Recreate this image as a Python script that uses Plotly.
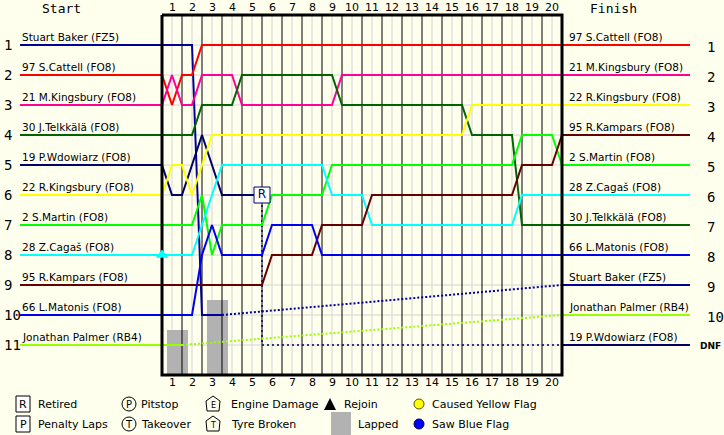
import plotly.graph_objects as go

# ---------------- data ----------------
drivers = ["Stuart Baker (FZ5)", "97 S.Cattell (FO8)", "21 M.Kingsbury (FO8)",
           "30 J.Telkkälä (FO8)", "19 P.Wdowiarz (FO8)", "22 R.Kingsbury (FO8)",
           "2 S.Martin (FO8)", "28 Z.Cagaš (FO8)", "95 R.Kampars (FO8)",
           "66 L.Matonis (FO8)", "Jonathan Palmer (RB4)"]
start_pos = [1, 2, 3, 4, 5, 6, 7, 8, 9, 10, 11]
finish_pos = [9, 1, 2, 7, 11, 3, 5, 6, 4, 8, 10]
finish_text = ["9", "1", "2", "7", "DNF", "3", "5", "6", "4", "8", "10"]
colors = ["#000099", "#FF0000", "#FF0099", "#006400", "#000066", "#FFFF00",
          "#00FF00", "#00FFFF", "#660000", "#0000F0", "#99FF00"]

# positions every half lap (0, 0.5, 1.0, ...)
pos_baker = [1, 1, 1, 1, 10, 10, 10]
pos_cattell = [2, 3, 2, 2, 1, 1, 1, 1, 1, 1,
               1, 1, 1, 1, 1, 1, 1, 1, 1, 1,
               1, 1, 1, 1, 1, 1, 1, 1, 1, 1,
               1, 1, 1, 1, 1, 1, 1, 1, 1, 1, 1]
pos_mkingsbury = [3, 2, 3, 3, 2, 2, 2, 2, 3, 3,
                  3, 3, 3, 3, 3, 3, 3, 3, 2, 2,
                  2, 2, 2, 2, 2, 2, 2, 2, 2, 2,
                  2, 2, 2, 2, 2, 2, 2, 2, 2, 2, 2]
pos_telkkala = [4, 4, 4, 4, 3, 3, 3, 3, 2, 2,
                2, 2, 2, 2, 2, 2, 2, 2, 3, 3,
                3, 3, 3, 3, 3, 3, 3, 3, 3, 3,
                3, 4, 4, 4, 4, 4, 7, 7, 7, 7, 7]
pos_wdowiarz = [5, 6, 6, 5, 4, 5, 6, 6, 6, 6, 6]
pos_rkingsbury = [6, 5, 5, 6, 5, 4, 4, 4, 4, 4,
                  4, 4, 4, 4, 4, 4, 4, 4, 4, 4,
                  4, 4, 4, 4, 4, 4, 4, 4, 4, 4,
                  4, 3, 3, 3, 3, 3, 3, 3, 3, 3, 3]
pos_martin = [7, 7, 7, 7, 6, 8, 7, 7, 7, 7,
              7, 6, 6, 6, 6, 6, 6, 5, 5, 5,
              5, 5, 5, 5, 5, 5, 5, 5, 5, 5,
              5, 5, 5, 5, 5, 5, 4, 4, 4, 4, 5]
pos_cagas = [8, 8, 8, 8, 7, 6, 5, 5, 5, 5,
             5, 5, 5, 5, 5, 5, 5, 6, 6, 6,
             6, 7, 7, 7, 7, 7, 7, 7, 7, 7,
             7, 7, 7, 7, 7, 7, 6, 6, 6, 6, 6]
pos_kampars = [9, 9, 9, 9, 9, 9, 9, 9, 9, 9,
               9, 8, 8, 8, 8, 8, 7, 7, 7, 7,
               7, 6, 6, 6, 6, 6, 6, 6, 6, 6,
               6, 6, 6, 6, 6, 6, 5, 5, 5, 5, 4]
pos_matonis = [10, 10, 10, 10, 8, 7, 8, 8, 8, 8,
               8, 7, 7, 7, 7, 7, 8, 8, 8, 8,
               8, 8, 8, 8, 8, 8, 8, 8, 8, 8,
               8, 8, 8, 8, 8, 8, 8, 8, 8, 8, 8]
pos_palmer = [11, 11, 11]
all_pos = [pos_baker, pos_cattell, pos_mkingsbury, pos_telkkala, pos_wdowiarz,
           pos_rkingsbury, pos_martin, pos_cagas, pos_kampars, pos_matonis, pos_palmer]

# lapped (dotted) tracks
lapped_baker_laps = [3.0, 20.0]
lapped_baker_pos = [10, 9]
lapped_palmer_laps = [1.0, 20.0]
lapped_palmer_pos = [11, 10]
retired_laps = [5.0, 5.0, 20.0]
retired_pos = [6, 11, 11]
retired_marker_lap = [5.0]
retired_marker_pos = [6]
rejoin_lap = [0.0]
rejoin_pos = [8]

# lapped-car bars
lapped_bar_laps = [1, 3]
lapped_bar_counts = [1, 2]

laps = list(range(1, 21))

# ---------------- geometry helpers (pixels -> axis units) ----------------
W, H = 724, 435
X0, XS = 162, 20
Y0, YS = 15, 30
def lx(px): return (px - X0) / XS
def ly(py): return (py - Y0) / YS

BG = "#FFFFEE"
FONT = "DejaVu Sans"
MONO = "DejaVu Sans Mono"

fig = go.Figure()
shapes = []
annotations = []

# light grid
for k in laps:
    shapes.append(dict(type="line", xref="x", yref="y", x0=k - 0.5, x1=k - 0.5, y0=0, y1=12,
                       line=dict(color="#D4D4D4", width=1), layer="below"))
for p in range(1, 12):
    shapes.append(dict(type="line", xref="x", yref="y", x0=0, x1=20, y0=p, y1=p,
                       line=dict(color="#D4D4D4", width=1), layer="below"))

# lapped bars
fig.add_trace(go.Bar(x=[l - 0.225 for l in lapped_bar_laps],
                     y=[-(c + 0.5) for c in lapped_bar_counts],
                     base=[12] * len(lapped_bar_laps), width=1.05,
                     marker=dict(color="#B2B2B2", line=dict(width=0)),
                     hoverinfo="skip"))

# black lap lines
bx, by = [], []
for k in laps[:-1]:
    bx += [k, k, None]
    by += [0, 12, None]
fig.add_trace(go.Scatter(x=bx, y=by, mode="lines", line=dict(color="black", width=1),
                         hoverinfo="skip"))

# dotted lapped tracks
fig.add_trace(go.Scatter(x=lapped_palmer_laps, y=lapped_palmer_pos, mode="lines",
                         line=dict(color=colors[10], width=2, dash="2px,2px")))
fig.add_trace(go.Scatter(x=lapped_baker_laps, y=lapped_baker_pos, mode="lines",
                         line=dict(color=colors[0], width=2, dash="2px,2px")))
fig.add_trace(go.Scatter(x=retired_laps, y=retired_pos, mode="lines",
                         line=dict(color=colors[4], width=1.5, dash="2px,3px")))

# driver lines
for i, name in enumerate(drivers):
    pos = all_pos[i]
    xs = [lx(20)] + [j * 0.5 for j in range(len(pos))]
    ys = [start_pos[i]] + pos
    fig.add_trace(go.Scatter(x=xs, y=ys, mode="lines",
                             line=dict(color=colors[i], width=2), hoverinfo="skip"))
    fig.add_trace(go.Scatter(x=[20, lx(690)], y=[finish_pos[i], finish_pos[i]], mode="lines",
                             line=dict(color=colors[i], width=2), hoverinfo="skip"))
    # left label + number
    annotations.append(dict(x=lx(20), y=start_pos[i] - 0.27, text=name, xanchor="left",
                            yanchor="middle", showarrow=False,
                            font=dict(family=FONT, size=10.5, color="black")))
    annotations.append(dict(x=lx(2), y=start_pos[i], text=str(start_pos[i]), xanchor="left",
                            yanchor="middle", showarrow=False,
                            font=dict(family=MONO, size=14, color="black")))
    # right label + number
    annotations.append(dict(x=lx(567), y=finish_pos[i] - 0.27, text=name, xanchor="left",
                            yanchor="middle", showarrow=False,
                            font=dict(family=FONT, size=10.5, color="black")))
    if finish_text[i] == "DNF":
        annotations.append(dict(x=lx(723), y=finish_pos[i] + 0.03, text="<b>DNF</b>",
                                xanchor="right", yanchor="middle", showarrow=False,
                                font=dict(family=FONT, size=9, color="black")))
    else:
        annotations.append(dict(x=lx(705), y=finish_pos[i] + 0.05, text=finish_text[i],
                                xanchor="left", yanchor="middle", showarrow=False,
                                font=dict(family=MONO, size=14, color="black")))

# border (drawn as a trace so markers can sit on top)
fig.add_trace(go.Scatter(x=[0, 20, 20, 0, 0], y=[0, 0, 12, 12, 0], mode="lines",
                         line=dict(color="black", width=3), hoverinfo="skip"))

# rejoin marker
fig.add_trace(go.Scatter(x=rejoin_lap, y=rejoin_pos, mode="markers",
                         marker=dict(symbol="triangle-up", size=11, color=colors[7],
                                     line=dict(width=0)), hoverinfo="skip"))
# retired marker
fig.add_trace(go.Scatter(x=retired_marker_lap, y=retired_marker_pos, mode="markers+text",
                         text=["R"], textposition="middle center",
                         textfont=dict(family=FONT, size=12, color=colors[4]),
                         marker=dict(symbol="square", size=16, color="white",
                                     line=dict(color=colors[4], width=1)),
                         hoverinfo="skip"))

# lap labels
for k in laps:
    for yy in (ly(7), ly(382)):
        annotations.append(dict(x=k - 0.5, y=yy, text=str(k), showarrow=False,
                                xanchor="center", yanchor="middle",
                                font=dict(family=FONT, size=11, color="black")))

annotations.append(dict(x=lx(40), y=ly(8), text="Start", xanchor="left", yanchor="middle",
                        showarrow=False, font=dict(family=MONO, size=13, color="black")))
annotations.append(dict(x=lx(588), y=ly(8), text="Finish", xanchor="left", yanchor="middle",
                        showarrow=False, font=dict(family=MONO, size=13, color="black")))

# ---------------- legend (drawn) ----------------
def txt(px, py, s, size=11, anchor="left", color="black", fam=FONT):
    annotations.append(dict(x=lx(px), y=ly(py), text=s, xanchor=anchor, yanchor="middle",
                            showarrow=False, font=dict(family=fam, size=size, color=color)))

def rect(x0, y0, x1, y1, fill="white", line="black", lw=1):
    shapes.append(dict(type="rect", xref="x", yref="y", x0=lx(x0), x1=lx(x1),
                       y0=ly(y0), y1=ly(y1), fillcolor=fill,
                       line=dict(color=line, width=lw), layer="above"))

def circ(cx, cy, r, fill="rgba(0,0,0,0)", line="black", lw=1):
    shapes.append(dict(type="circle", xref="x", yref="y", x0=lx(cx - r), x1=lx(cx + r),
                       y0=ly(cy - r), y1=ly(cy + r), fillcolor=fill,
                       line=dict(color=line, width=lw), layer="above"))

def pent(cx, cy):
    pts = [(cx, cy - 8), (cx + 7, cy - 3), (cx + 6, cy + 7), (cx - 6, cy + 7), (cx - 7, cy - 3)]
    path = "M " + " L ".join(f"{lx(a)},{ly(b)}" for a, b in pts) + " Z"
    shapes.append(dict(type="path", xref="x", yref="y", path=path,
                       line=dict(color="black", width=1), layer="above"))

R1, R2 = 404, 424
rect(16, 396, 30, 412); txt(23, R1, "R", 11, "center")
txt(36, R1, "Retired")
rect(16, 416, 30, 432); txt(23, R2, "P", 11, "center")
txt(36, R2, "Penalty Laps")
circ(129, R1, 7); txt(129, R1, "P", 10, "center")
txt(139, R1, "Pitstop")
circ(129, R2, 7); txt(129, R2, "T", 10, "center")
txt(139, R2, "Takeover")
pent(213, R1); txt(213, R1 + 1, "E", 8, "center")
txt(229, R1, "Engine Damage")
pent(213, R2); txt(213, R2 + 1, "T", 8, "center")
txt(229, R2, "Tyre Broken")
shapes.append(dict(type="path", xref="x", yref="y",
                   path=f"M {lx(324)},{ly(410)} L {lx(336)},{ly(410)} L {lx(330)},{ly(398)} Z",
                   fillcolor="black", line=dict(color="black", width=0), layer="above"))
txt(342, R1, "Rejoin")
rect(331, 412, 351, 435, fill="#B2B2B2", line="#B2B2B2", lw=0)
txt(356, R2, "Lapped")
circ(419, R1, 5, fill="#FFFF00", line="#555500")
txt(430, R1, "Caused Yellow Flag")
circ(419, R2, 5, fill="#0000FF", line="#000055")
txt(430, R2, "Saw Blue Flag")

fig.update_layout(
    width=W, height=H, autosize=False,
    margin=dict(l=0, r=0, t=0, b=0, pad=0),
    paper_bgcolor=BG, plot_bgcolor=BG,
    showlegend=False, barmode="overlay",
    xaxis=dict(range=[lx(0), lx(W)], visible=False, showgrid=False, zeroline=False,
               fixedrange=True),
    yaxis=dict(range=[ly(H), ly(0)], visible=False, showgrid=False, zeroline=False,
               fixedrange=True),
    shapes=shapes, annotations=annotations,
)

fig.write_html("out.html")
